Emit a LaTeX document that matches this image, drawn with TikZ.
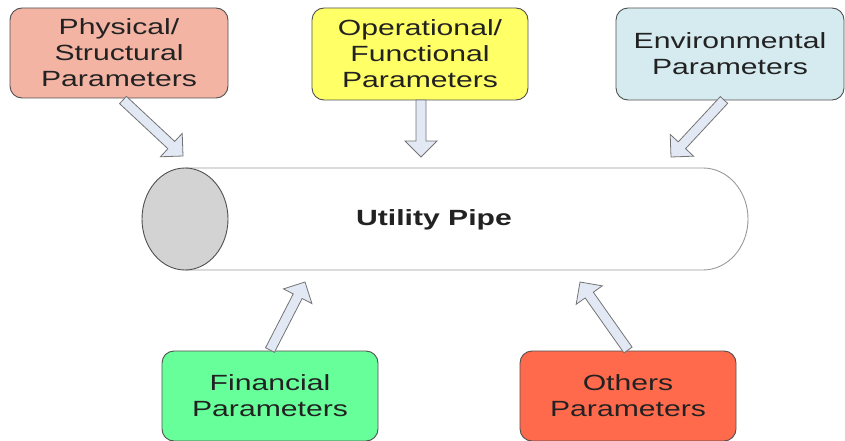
\documentclass[tikz,border=0pt]{standalone}
\usepackage{fontspec}
\setmainfont{Liberation Sans}[FakeStretch=1.37]
\usetikzlibrary{calc}

\definecolor{physfill}{HTML}{F3B4A4}
\definecolor{operfill}{HTML}{FFFF66}
\definecolor{envfill}{HTML}{D5EBF0}
\definecolor{finfill}{HTML}{66FF99}
\definecolor{othfill}{HTML}{FF6A4D}
\definecolor{arrowfill}{HTML}{E2E9F5}
\definecolor{edge}{HTML}{505050}
\definecolor{capfill}{HTML}{D3D3D3}
\definecolor{inkc}{HTML}{222222}

% block arrow from tail #1 to tip #2
\newcommand\blockarrow[2]{%
  \path ($(#2)!16pt!(#1)$) coordinate (hb);
  \draw[arrowbody]
    ($(#1)!5pt!90:(#2)$) -- ($(hb)!5pt!90:(#2)$) -- ($(hb)!16pt!90:(#2)$)
    -- (#2) -- ($(hb)!16pt!-90:(#2)$) -- ($(hb)!5pt!-90:(#2)$)
    -- ($(#1)!5pt!-90:(#2)$) -- cycle;}

\begin{document}
\begin{tikzpicture}[x=1pt,y=-1pt,
  parambox/.style={draw=edge, line width=0.9pt, rounded corners=12pt,
    align=center, text=inkc, font=\fontsize{22}{26}\selectfont,
    inner sep=0pt},
  arrowbody/.style={draw=edge!80, line width=0.8pt, fill=arrowfill,
    line join=miter}]

\useasboundingbox (0,0) rectangle (845,441);

% parameter boxes
\node[parambox, fill=physfill, minimum width=218pt, minimum height=90pt]
  (phys) at (119,53) {Physical/\\Structural\\Parameters};
\node[parambox, fill=operfill, minimum width=216pt, minimum height=92pt]
  (oper) at (420,54) {Operational/\\Functional\\Parameters};
\node[parambox, fill=envfill, minimum width=228pt, minimum height=92pt]
  (env) at (730,54) {Environmental\\Parameters};
\node[parambox, fill=finfill, minimum width=216pt, minimum height=90pt]
  (fin) at (270,396) {Financial\\Parameters};
\node[parambox, fill=othfill, minimum width=216pt, minimum height=90pt]
  (oth) at (628,396) {Others\\Parameters};

% the pipe
\draw[draw=gray!80, line width=0.9pt, fill=white]
  (185,168) -- (703,168) arc[start angle=-90, end angle=90, x radius=45, y radius=51]
  -- (185,270);
\draw[draw=edge, line width=0.9pt, fill=capfill] (185,219) ellipse[x radius=43, y radius=51];
\node[text=inkc, font=\fontsize{22}{26}\selectfont\bfseries] (pipe) at (434,220) {Utility Pipe};

% arrow ends
\coordinate (a1) at (123,100); \coordinate (b1) at (183,156);
\coordinate (a2) at (421,100); \coordinate (b2) at (421,157);
\coordinate (a3) at (724,100); \coordinate (b3) at (671,157);
\coordinate (a4) at (270,350); \coordinate (b4) at (305,282);
\coordinate (a5) at (628,350); \coordinate (b5) at (580,282);

\blockarrow{a1}{b1}
\blockarrow{a2}{b2}
\blockarrow{a3}{b3}
\blockarrow{a4}{b4}
\blockarrow{a5}{b5}

\end{tikzpicture}
\end{document}
